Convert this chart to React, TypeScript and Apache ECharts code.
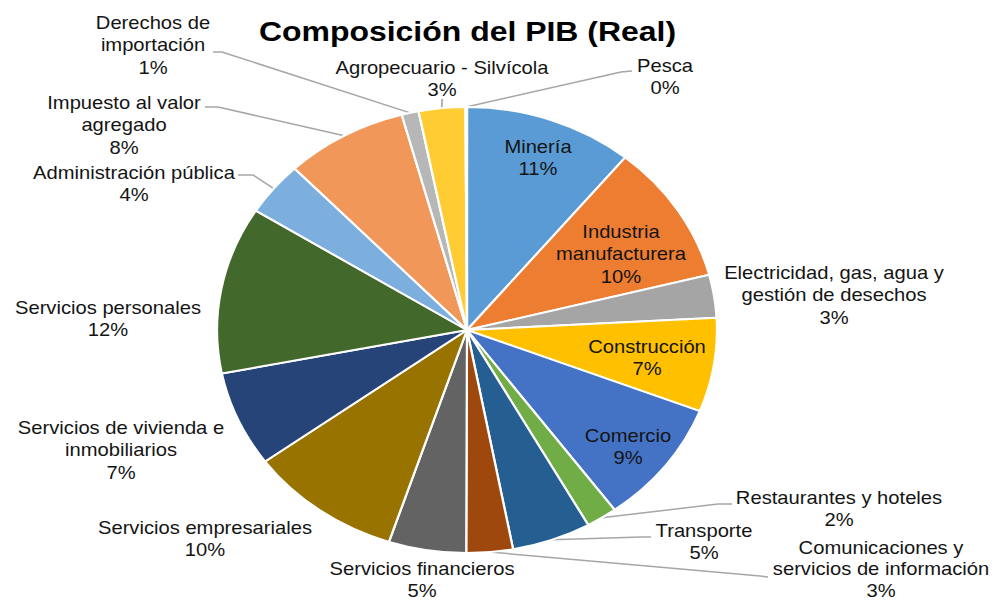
import React, { useEffect, useRef } from "react";
import * as echarts from "echarts";

// ---- data ----
const TITLE = "Composición del PIB (Real)";

const categories = [
  "Minería",
  "Industria\nmanufacturera",
  "Electricidad, gas, agua y\ngestión de desechos",
  "Construcción",
  "Comercio",
  "Restaurantes y hoteles",
  "Transporte",
  "Comunicaciones y\nservicios de información",
  "Servicios financieros",
  "Servicios empresariales",
  "Servicios de vivienda e\ninmobiliarios",
  "Servicios personales",
  "Administración pública",
  "Impuesto al valor\nagregado",
  "Derechos de\nimportación",
  "Agropecuario - Silvícola",
  "Pesca",
];

const values = [10.9, 10.1, 3.1, 6.8, 9.0, 2.0, 5.1, 3.0, 5.0, 9.9, 6.9, 12.1, 3.9, 7.9, 1.1, 3.0, 0.1];

const colors = [
  "#5B9BD5", "#ED7D31", "#A5A5A5", "#FFC000", "#4472C4", "#70AD47", "#255E91", "#9E480E",
  "#636363", "#997300", "#264478", "#43682B", "#7CAFDD", "#F1975A", "#B7B7B7", "#FFCD33", "#698ED0",
];

// ---- layout (not data) ----
const S = 1.121; // horizontal stretch of the reference picture
const INSIDE = [0, 1, 3, 4];
// label block centres in page pixels
const LABEL_POS: [number, number][] = [
  [538, 158], [621, 254], [834, 295], [647, 358], [628, 447], [839, 509], [704, 542],
  [881, 569], [422, 580], [205, 539], [121, 450], [108, 319], [134, 184], [124, 125],
  [153, 45], [442, 79], [665, 77],
];
// leader line: [label end x, y, knee x, y] in page pixels
const LINE_ATTACH: Record<number, [number, number, number, number]> = {
  5: [732, 504, 718, 504],
  6: [651, 537, 641, 537],
  7: [768, 577, 760, 576],
  12: [238, 175, 253, 175],
  13: [205, 107, 218, 107],
  14: [213, 52, 222, 52],
  15: [442, 99, 442, 101],
  16: [632, 71, 621, 72],
};

export default function App() {
  const ref = useRef<HTMLDivElement>(null);
  useEffect(() => {
    document.body.style.margin = "0";
    const chart = echarts.init(ref.current!, undefined, { renderer: "svg" });
    const FONT = "'Liberation Sans', Arial, sans-serif";
    const data = categories.map((name, i) => {
      const inside = INSIDE.includes(i);
      const bottom = i === 7 || i === 8;
      return {
        name,
        value: values[i],
        itemStyle: { color: colors[i] },
        label: inside
          ? { position: "inside" }
          : bottom
          ? { position: "outside", lineHeight: 21.5 }
          : { position: "outside" },
        labelLine: { show: LINE_ATTACH[i] !== undefined },
      };
    });
    chart.setOption({
      animation: false,
      backgroundColor: "#ffffff",
      graphic: [
        {
          type: "text",
          x: 467.5 / S,
          y: 31,
          style: {
            text: TITLE,
            fontFamily: FONT,
            fontSize: 28.5,
            fontWeight: "bold",
            fill: "#000000",
            textAlign: "center",
            textVerticalAlign: "middle",
          },
        },
      ],
      series: [
        {
          type: "pie",
          center: [467 / S, 330],
          radius: 223,
          startAngle: 90,
          clockwise: true,
          avoidLabelOverlap: false,
          minShowLabelAngle: 0,
          itemStyle: { borderColor: "#ffffff", borderWidth: 2 },
          label: {
            show: true,
            fontFamily: FONT,
            fontSize: 18,
            lineHeight: 22.5,
            color: "#141414",
            align: "center",
            formatter: (p: any) => `${p.name}\n${Math.round(p.percent)}%`,
          },
          labelLine: {
            show: true,
            length: 10,
            length2: 10,
            lineStyle: { color: "#a6a6a6", width: 1.5 },
          },
          labelLayout: (p: any) => {
            const i = p.dataIndex;
            const [lx, ly] = LABEL_POS[i];
            const res: any = { x: lx / S, y: ly, align: "center", verticalAlign: "middle" };
            const a = LINE_ATTACH[i];
            if (a && p.labelLinePoints && p.labelLinePoints[0]) {
              res.labelLinePoints = [
                p.labelLinePoints[0],
                [a[2] / S, a[3]],
                [a[0] / S, a[1]],
              ];
            }
            return res;
          },
          emphasis: { disabled: true },
          data,
        },
      ],
    });
    return () => chart.dispose();
  }, []);
  return (
    <div style={{ width: 994, height: 602, overflow: "hidden" }}>
      <div
        ref={ref}
        style={{
          width: 994 / S,
          height: 602,
          transform: `scaleX(${S})`,
          transformOrigin: "0 0",
        }}
      />
    </div>
  );
}
